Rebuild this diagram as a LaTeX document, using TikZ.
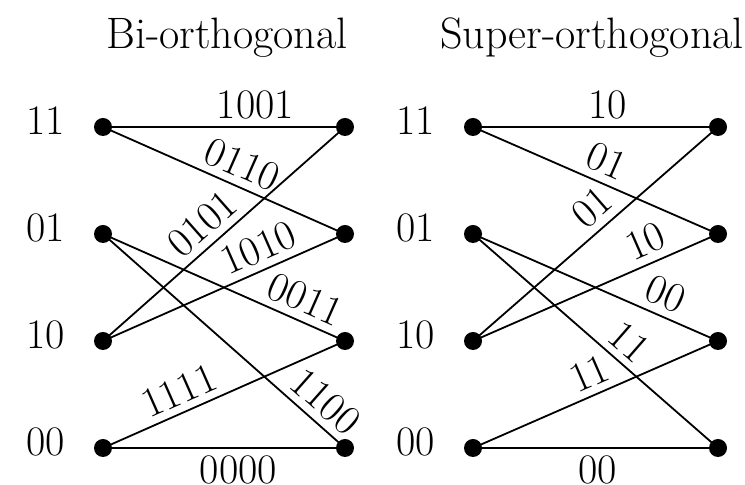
\documentclass[tikz,border=0pt]{standalone}
\usepackage{tikz}
\usetikzlibrary{positioning}
\tikzset{
  % trellis state
  tdot/.style={circle, fill=black, inner sep=0pt, minimum size=9pt},
  % state name at the left
  rowlbl/.style={anchor=east, inner sep=0pt, font=\fontsize{21}{25}\selectfont},
  % branch
  trel/.style={line width=0.9pt},
  % branch label
  lbl/.style={inner sep=3.5pt, font=\fontsize{21}{25}\selectfont},
  % heading
  ttl/.style={font=\fontsize{22}{26}\selectfont}
}
\begin{document}
\begin{tikzpicture}[x=0.5pt, y=-0.5pt, node distance=53.5pt and 121pt, on grid]
  \useasboundingbox (0,0) rectangle (745,485);

  % Bi-orthogonal trellis
  \node[tdot] (a11) at (103,127) {};
  \node[tdot, below=of a11] (a01) {};
  \node[tdot, below=of a01] (a10) {};
  \node[tdot, below=of a10] (a00) {};
  \node[tdot, right=of a11] (b11) {};
  \node[tdot, right=of a01] (b01) {};
  \node[tdot, right=of a10] (b10) {};
  \node[tdot, right=of a00] (b00) {};

  % Super-orthogonal trellis
  \node[tdot, right=185pt of a11] (c11) {};
  \node[tdot, below=of c11] (c01) {};
  \node[tdot, below=of c01] (c10) {};
  \node[tdot, below=of c10] (c00) {};
  \node[tdot, right=122.5pt of c11] (d11) {};
  \node[tdot, right=122.5pt of c01] (d01) {};
  \node[tdot, right=122.5pt of c10] (d10) {};
  \node[tdot, right=122.5pt of c00] (d00) {};

  % Headings
  \node[ttl] (tbi) at (227,38) {Bi-orthogonal};
  \node[ttl] (tsup) at (592,38) {Super-orthogonal};

  % State names
  \node[rowlbl] (na11) at ([xshift=-19pt, yshift=3pt]a11.center) {11};
  \node[rowlbl] (na01) at ([xshift=-19pt, yshift=3pt]a01.center) {01};
  \node[rowlbl] (na10) at ([xshift=-19pt, yshift=3pt]a10.center) {10};
  \node[rowlbl] (na00) at ([xshift=-19pt, yshift=3pt]a00.center) {00};
  \node[rowlbl] (nc11) at ([xshift=-19pt, yshift=3pt]c11.center) {11};
  \node[rowlbl] (nc01) at ([xshift=-19pt, yshift=3pt]c01.center) {01};
  \node[rowlbl] (nc10) at ([xshift=-19pt, yshift=3pt]c10.center) {10};
  \node[rowlbl] (nc00) at ([xshift=-19pt, yshift=3pt]c00.center) {00};

  % Bi-orthogonal branches
  \draw[trel] (a11.center) -- node[lbl, above, pos=.63] {1001} (b11.center);
  \draw[trel] (a11.center) -- node[lbl, sloped, above, pos=.54] {0110} (b01.center);
  \draw[trel] (a10.center) -- node[lbl, sloped, above, pos=.47] {0101} (b11.center);
  \draw[trel] (a10.center) -- node[lbl, sloped, above, pos=.68] {1010} (b01.center);
  \draw[trel] (a01.center) -- node[lbl, sloped, above, pos=.80] {0011} (b10.center);
  \draw[trel] (a01.center) -- node[lbl, sloped, above, pos=.86] {1100} (b00.center);
  \draw[trel] (a00.center) -- node[lbl, sloped, above, pos=.35] {1111} (b10.center);
  \draw[trel] (a00.center) -- node[lbl, below, pos=.56] {0000} (b00.center);

  % Super-orthogonal branches
  \draw[trel] (c11.center) -- node[lbl, above, pos=.55] {10} (d11.center);
  \draw[trel] (c11.center) -- node[lbl, sloped, above, pos=.51] {01} (d01.center);
  \draw[trel] (c10.center) -- node[lbl, sloped, above, pos=.545] {01} (d11.center);
  \draw[trel] (c10.center) -- node[lbl, sloped, above, pos=.74] {10} (d01.center);
  \draw[trel] (c01.center) -- node[lbl, sloped, above, pos=.75] {00} (d10.center);
  \draw[trel] (c01.center) -- node[lbl, sloped, above, pos=.58] {11} (d00.center);
  \draw[trel] (c00.center) -- node[lbl, sloped, above, pos=.51] {11} (d10.center);
  \draw[trel] (c00.center) -- node[lbl, below, pos=.51] {00} (d00.center);

\end{tikzpicture}
\end{document}
